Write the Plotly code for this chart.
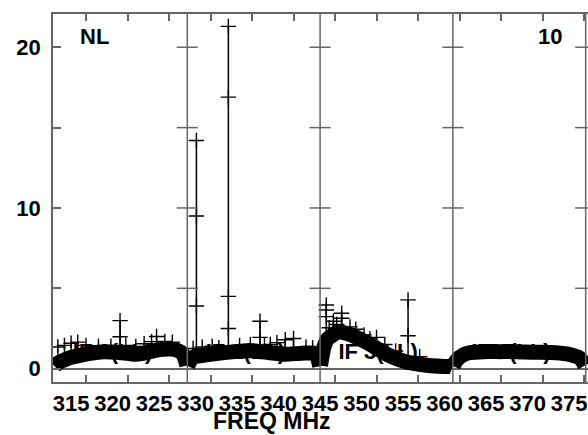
import plotly.graph_objects as go

# ---------------- data ----------------
panel_edges = [311.2, 327.2, 343.2, 359.2, 375.2]
panel_names = ["IF 1(LL)", "IF 2(LL)", "IF 3(LL)", "IF 4(LL)"]

if1_freq = [311.2, 311.6, 312.4, 313.2, 314.0, 315.5, 317.1, 318.7, 320.0, 320.7,
            321.9, 323.5, 325.1, 326.1, 326.6, 326.9, 327.15]
if1_val = [0.15, 0.35, 0.55, 0.70, 0.80, 0.95, 1.05, 1.02, 0.95, 0.90,
           0.95, 1.15, 1.22, 1.12, 0.95, 0.65, 0.20]

if2_freq = [327.25, 327.5, 327.9, 329.3, 330.9, 332.95, 334.96, 336.96, 338.98,
            340.99, 342.6, 342.95, 343.15]
if2_val = [0.15, 0.45, 0.70, 0.85, 0.96, 1.06, 1.11, 1.01, 0.90,
           0.96, 0.96, 0.60, 0.15]

if3_freq = [343.25, 343.45, 343.7, 344.1, 344.6, 345.4, 346.2, 347.0, 347.8, 349.0,
            350.2, 351.4, 352.6, 353.8, 355.0, 356.6, 358.2, 358.9, 359.15]
if3_val = [0.20, 0.80, 1.40, 1.85, 2.05, 2.30, 2.22, 2.10, 1.89, 1.58,
           1.21, 0.85, 0.59, 0.39, 0.29, 0.18, 0.14, 0.14, 0.10]

if4_freq = [359.25, 359.6, 360.5, 361.3, 362.9, 364.9, 366.9, 368.9, 370.9,
            372.9, 374.5, 375.1]
if4_val = [0.15, 0.50, 0.88, 1.00, 1.06, 1.06, 1.06, 1.02, 1.01,
           0.92, 0.65, 0.20]

# individual channels standing above the band (value, lower bar length)
out_freq = [319.1, 319.1, 328.3, 328.3, 328.3, 332.15, 332.15, 332.15, 332.15,
            335.96, 335.96, 353.8, 353.8, 343.95, 343.95, 343.95, 345.8, 345.8,
            344.8, 346.8, 350.0,
            311.6, 312.4, 313.2, 314.0, 315.0, 316.5, 318.0, 319.8, 321.0, 322.0,
            322.9, 323.5, 324.5, 325.4,
            327.9, 329.0, 330.2, 331.0, 333.5, 334.8, 336.5, 337.2, 338.0, 339.0,
            340.0, 341.5, 342.3,
            344.3, 345.2, 347.5, 348.5, 349.2, 351.0, 352.3, 355.2]
out_val = [2.99, 1.99, 14.2, 9.5, 3.9, 21.3, 16.9, 4.5, 2.5,
           2.95, 1.95, 4.28, 2.05, 3.96, 3.65, 3.24, 3.45, 3.14,
           2.95, 2.6, 1.95,
           1.35, 1.45, 1.58, 1.65, 1.45, 1.40, 1.40, 1.45, 1.38, 1.55,
           1.68, 2.00, 1.70, 1.65,
           1.25, 1.35, 1.40, 1.30, 1.45, 1.50, 1.45, 1.50, 1.62, 1.80,
           1.88, 1.35, 1.30,
           2.55, 2.75, 2.45, 2.10, 1.85, 1.50, 1.10, 0.75]
out_err_minus = [1.7, 0, 13.0, 0, 0, 20.0, 0, 0, 0,
                 1.7, 0, 3.9, 0, 2.3, 0, 0, 1.2, 0,
                 0.8, 0.4, 0.6,
                 0.3, 0.3, 0.3, 0.4, 0.3, 0.3, 0.3, 0.3, 0.3, 0.4,
                 0.4, 0.8, 0.4, 0.3,
                 0.3, 0.3, 0.3, 0.3, 0.3, 0.3, 0.3, 0.3, 0.4, 0.6,
                 0.6, 0.3, 0.3,
                 0.3, 0.4, 0.4, 0.3, 0.3, 0.3, 0.3, 0.3]

x_tick_vals = [315, 320, 325, 330, 335, 340, 345, 350, 355, 360, 365, 370, 375]
x_tick_text = ["315", "320", "325", "330", "335", "340", "345", "350", "355",
               "360", "365", "370", "375"]
y_tick_vals = [0, 5, 10, 15, 20]
y_tick_text = ["0", "", "10", "", "20"]
panel_tick_vals = [5, 10, 15, 20]

# ---------------- figure ----------------
FONT = "Liberation Sans, Arial, sans-serif"
NARROW = "Liberation Sans Narrow, Arial Narrow, Liberation Sans, Arial, sans-serif"
AX = "#666666"

fig = go.Figure()

# panel labels (behind data)
for i, name in enumerate(panel_names):
    fig.add_trace(go.Scatter(
        x=[panel_edges[i] + 7.0], y=[0.95], mode="text", text=[name],
        textposition="middle center",
        textfont=dict(family=FONT, size=22, color="black", weight="bold"),
        showlegend=False, hoverinfo="skip"))

# dense band of each IF
for fx, fy in [(if1_freq, if1_val), (if2_freq, if2_val),
               (if3_freq, if3_val), (if4_freq, if4_val)]:
    fig.add_trace(go.Scatter(
        x=fx, y=fy, mode="lines",
        line=dict(color="black", width=15, shape="spline", smoothing=0.6),
        showlegend=False, hoverinfo="skip"))

# individual points with error bars
fig.add_trace(go.Scatter(
    x=out_freq, y=out_val, mode="markers",
    marker=dict(symbol="cross-thin", size=11, color="black",
                line=dict(width=1.4, color="black")),
    error_y=dict(type="data", symmetric=False,
                 array=[0] * len(out_err_minus), arrayminus=out_err_minus,
                 thickness=1.5, width=0, color="black"),
    showlegend=False, hoverinfo="skip"))

# tick marks on inner panel borders
bx, by = [], []
for e in panel_edges[1:]:
    for v in panel_tick_vals:
        bx.append(e)
        by.append(v)
fig.add_trace(go.Scatter(
    x=bx, y=by, mode="markers",
    marker=dict(symbol="line-ew", size=15, line=dict(width=1.5, color=AX)),
    showlegend=False, hoverinfo="skip"))

shapes = []
for e in panel_edges[1:]:
    shapes.append(dict(type="line", xref="x", yref="paper", x0=e, x1=e, y0=0, y1=1,
                       line=dict(color=AX, width=1.5), layer="above"))

fig.update_layout(
    width=588, height=435,
    margin=dict(l=53, r=0, t=14, b=53),
    paper_bgcolor="white", plot_bgcolor="white",
    shapes=shapes,
    xaxis=dict(range=[311.02, 375.48], tickmode="array", tickvals=x_tick_vals,
               ticktext=x_tick_text, ticks="inside", ticklen=7, tickwidth=1.5,
               tickcolor=AX, showline=True, linecolor=AX, linewidth=1.5,
               mirror="ticks", showgrid=False, zeroline=False,
               ticklabelshift=-15, ticklabelstandoff=1,
               tickfont=dict(family=NARROW, size=22, color="black", weight="bold")),
    yaxis=dict(range=[-0.83, 22.07], tickmode="array", tickvals=y_tick_vals,
               ticktext=y_tick_text, ticks="inside", ticklen=8, tickwidth=1.5,
               tickcolor=AX, showline=True, linecolor=AX, linewidth=1.5,
               mirror=False, showgrid=False, zeroline=True, zerolinecolor=AX,
               zerolinewidth=1.5, ticklabelstandoff=6,
               tickfont=dict(family=FONT, size=22, color="black", weight="bold")),
    annotations=[
        dict(text="FREQ MHz", xref="paper", yref="paper", x=0.409, y=-0.106,
             xanchor="center", yanchor="middle", showarrow=False,
             font=dict(family=FONT, size=23, color="black", weight="bold")),
        dict(text="NL", xref="paper", yref="paper", x=0.0467, y=0.938,
             xanchor="left", yanchor="middle", showarrow=False,
             font=dict(family=FONT, size=22, color="black", weight="bold")),
        dict(text="10", xref="paper", yref="paper", x=0.955, y=0.938,
             xanchor="right", yanchor="middle", showarrow=False,
             font=dict(family=FONT, size=22, color="black", weight="bold")),
    ],
)

fig.write_html("out.html",
               config={"displayModeBar": False},
               post_script="document.body.style.margin='0px';"
                           "document.body.style.padding='0px';")
